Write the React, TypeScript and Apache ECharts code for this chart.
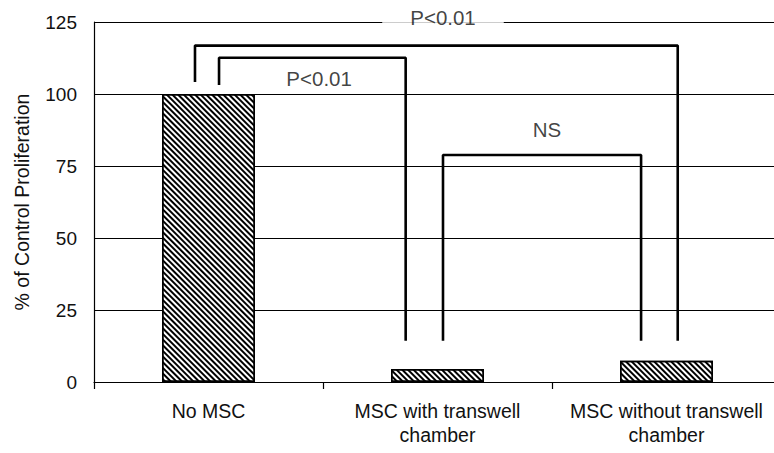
import React, { useEffect, useRef } from "react";
import * as echarts from "echarts";

const categories = ["No MSC", "MSC with transwell\nchamber", "MSC without transwell\nchamber"];
const proliferation = [100, 4.5, 7.4];
const yTicks = { min: 0, max: 125, interval: 25 };

// Significance brackets, in [category position (0..3), % value]
const outerBracket = [[0.441, 104.2], [0.441, 116.8], [2.549, 116.8], [2.549, 14.3]];
const innerBracket = [[0.546, 103.1], [0.546, 112.6], [1.361, 112.6], [1.361, 14.3]];
const nsBracket = [[1.524, 14.3], [1.524, 78.8], [2.389, 78.8], [2.389, 14.3]];
const sigLabels = [
  { pos: [1.524, 126.4], text: "P<0.01", box: true },
  { pos: [0.983, 105.3], text: "P<0.01", box: false },
  { pos: [1.978, 87.6], text: "NS", box: false },
];

const FONT = "'Liberation Sans', Arial, sans-serif";

export default function App() {
  const ref = useRef<HTMLDivElement>(null);
  useEffect(() => {
    document.body.style.margin = "0";
    document.body.style.overflow = "hidden";
    const chart = echarts.init(ref.current!, null, { renderer: "svg" });
    const bracketSeries = [outerBracket, innerBracket, nsBracket].map((d) => ({
      type: "line",
      xAxisIndex: 1,
      yAxisIndex: 0,
      data: d,
      symbol: "none",
      silent: true,
      clip: false,
      lineStyle: { color: "#000", width: 2.6 },
      z: 5,
    }));
    chart.setOption({
      animation: false,
      backgroundColor: "#fff",
      textStyle: { fontFamily: FONT },
      grid: { left: 94, top: 22, width: 687, height: 360 },
      xAxis: [
        {
          type: "category",
          data: categories,
          axisLine: { lineStyle: { color: "#000", width: 1.2 } },
          axisTick: { show: true, length: 7, lineStyle: { color: "#000", width: 1.2 } },
          axisLabel: {
            interval: 0,
            color: "#111",
            fontSize: 19.5,
            fontFamily: FONT,
            lineHeight: 24,
            margin: 17,
          },
        },
        { type: "value", min: 0, max: 3, show: false },
      ],
      yAxis: {
        type: "value",
        min: yTicks.min,
        max: yTicks.max,
        interval: yTicks.interval,
        name: "% of Control Proliferation",
        nameLocation: "middle",
        nameGap: 62,
        nameTextStyle: { fontSize: 19.5, color: "#111", fontFamily: FONT },
        axisLine: { show: true, lineStyle: { color: "#000", width: 1.2 } },
        axisTick: { show: false },
        axisLabel: { color: "#111", fontSize: 19, fontFamily: FONT, margin: 17 },
        splitLine: { lineStyle: { color: "#000", width: 1.2 } },
      },
      series: [
        {
          type: "bar",
          data: proliferation,
          barWidth: 93,
          itemStyle: {
            color: "#fff",
            borderColor: "#000",
            borderWidth: 1.5,
            decal: {
              symbol: "rect",
              symbolSize: 1,
              color: "#000",
              backgroundColor: "#fff",
              dashArrayX: [1, 0],
              dashArrayY: [1.6, 1.6],
              rotation: Math.PI / 4,
            },
          },
          z: 2,
        },
        ...bracketSeries,
        {
          type: "scatter",
          xAxisIndex: 1,
          yAxisIndex: 0,
          symbolSize: 0,
          silent: true,
          clip: false,
          z: 6,
          data: sigLabels.map((l) => ({
            value: l.pos,
            label: {
              show: true,
              position: "inside",
              formatter: l.text,
              color: "#111",
              fontSize: 20.5,
              fontFamily: FONT,
              backgroundColor: l.box ? "#fff" : "transparent",
              padding: l.box ? [3, 28] : 0,
            },
          })),
        },
      ],
    });
    return () => chart.dispose();
  }, []);
  return (
    <div style={{ width: 774, height: 453, overflow: "hidden" }}>
      <div ref={ref} style={{ width: 782, height: 453 }} />
    </div>
  );
}
